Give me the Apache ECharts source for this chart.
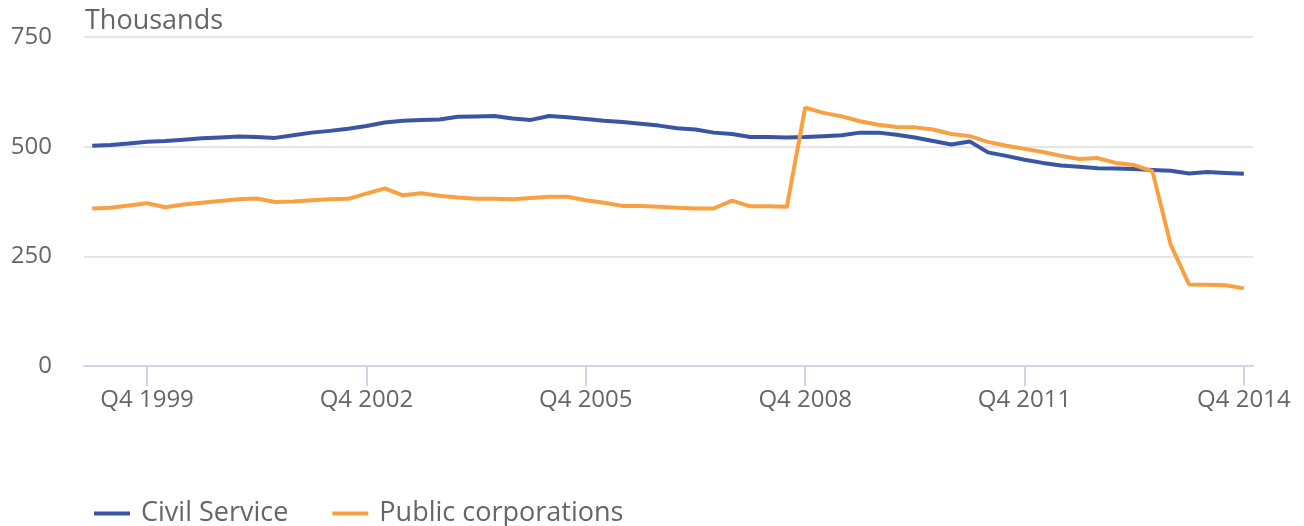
<!DOCTYPE html>
<html>
<head>
<meta charset="utf-8">
<script src="https://cdn.jsdelivr.net/npm/echarts@6/dist/echarts.min.js"></script>
<style>
  html, body { margin: 0; padding: 0; background: #fff; }
  #chart { width: 1304px; height: 526px; }
</style>
</head>
<body>
<div id="chart"></div>
<script>
// quarterly labels Q1 1999 .. Q4 2014
const quarters = [];
for (let y = 1999; y <= 2014; y++) {
  for (let q = 1; q <= 4; q++) quarters.push('Q' + q + ' ' + y);
}
const tickQuarters = ['Q4 1999', 'Q4 2002', 'Q4 2005', 'Q4 2008', 'Q4 2011', 'Q4 2014'];
const yTicks = [0, 250, 500, 750];

// thousands
const civilService = [
  502, 504, 507, 511, 513, 516, 519, 521, 523, 522, 520, 526, 532, 536, 541, 547,
  555, 559, 561, 562, 568, 569, 570, 564, 561, 570, 567, 563, 559, 556, 552, 548,
  542, 539, 532, 529, 522, 522, 521, 522, 524, 526, 532, 532, 527, 521, 513, 505,
  512, 487, 479, 470, 463, 457, 454, 451, 450, 449, 447, 445, 439, 442, 440, 438
];
const publicCorporations = [
  359, 361, 366, 371, 362, 368, 372, 376, 380, 382, 374, 375, 378, 380, 381, 393,
  405, 389, 394, 388, 384, 381, 381, 380, 383, 386, 386, 378, 372, 365, 365, 363,
  361, 359, 359, 377, 364, 364, 363, 589, 577, 569, 558, 550, 545, 544, 539, 529,
  524, 511, 502, 495, 488, 479, 472, 474, 463, 458, 444, 276, 186, 185, 184, 177
];

const toPairs = arr => arr.map((v, i) => [i, v]);
const tickIdx = tickQuarters.map(q => quarters.indexOf(q));

const chart = echarts.init(document.getElementById('chart'));
const font = '"Open Sans", sans-serif';
const option = {
  animation: false,
  textStyle: { fontFamily: font },
  title: {
    text: 'Thousands',
    left: 80,
    top: 3,
    textStyle: { fontFamily: font, fontSize: 27, fontWeight: 'normal', color: '#666666' }
  },
  grid: { left: 84, right: 51, top: 37, bottom: 160 },
  legend: {
    left: 89,
    top: 495,
    icon: 'rect',
    itemWidth: 36,
    itemHeight: 4,
    itemGap: 44,
    textStyle: { fontSize: 27, color: '#666666', padding: [0, 0, 0, 6] },
    data: ['Civil Service', 'Public corporations']
  },
  xAxis: {
    type: 'value',
    min: -0.45,
    max: 63.5,
    splitLine: { show: false },
    axisLine: { show: true, lineStyle: { color: '#ccd6eb', width: 2 } },
    axisTick: { show: true, length: 20, customValues: tickIdx, lineStyle: { color: '#ccd6eb', width: 2 } },
    axisLabel: {
      customValues: tickIdx,
      margin: 22,
      fontSize: 24,
      color: '#666666',
      formatter: v => quarters[Math.round(v)]
    }
  },
  yAxis: {
    type: 'value',
    min: yTicks[0],
    max: yTicks[yTicks.length - 1],
    interval: 250,
    axisLine: { show: false },
    axisTick: { show: false },
    axisLabel: { fontSize: 24, color: '#666666', margin: 32 },
    splitLine: { lineStyle: { color: '#e6e6e6', width: 2 } }
  },
  series: [
    {
      name: 'Civil Service',
      type: 'line',
      data: toPairs(civilService),
      showSymbol: false,
      symbol: 'none',
      lineStyle: { color: '#3a56a2', width: 4 },
      itemStyle: { color: '#3a56a2' }
    },
    {
      name: 'Public corporations',
      type: 'line',
      data: toPairs(publicCorporations),
      showSymbol: false,
      symbol: 'none',
      lineStyle: { color: '#f9a041', width: 4 },
      itemStyle: { color: '#f9a041' }
    }
  ]
};
chart.setOption(option);
</script>
</body>
</html>
